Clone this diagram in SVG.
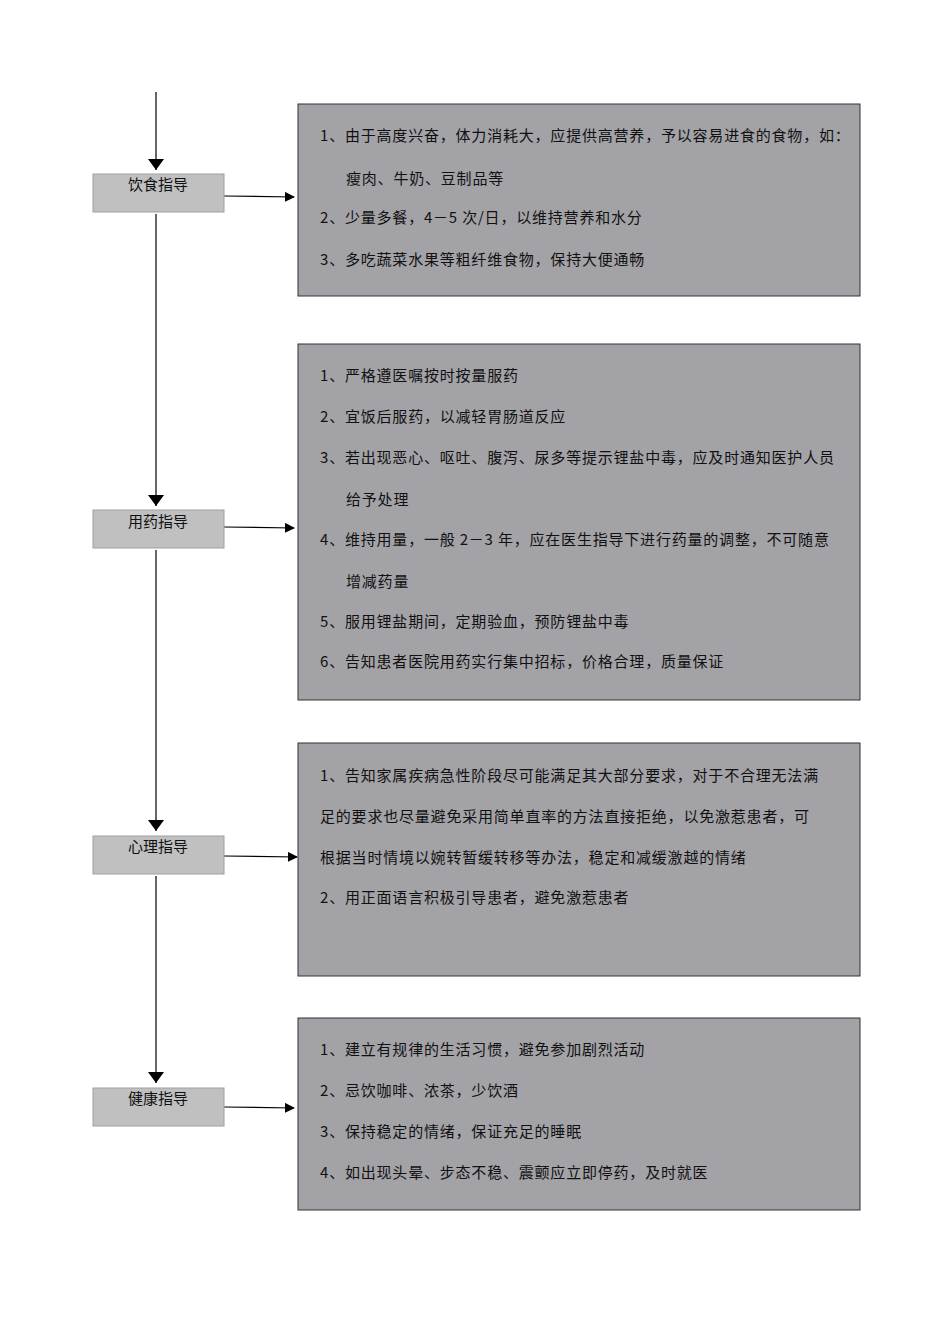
<svg xmlns="http://www.w3.org/2000/svg" width="950" height="1344" viewBox="0 0 950 1344">
<style>
.s{fill:#c0c0c0;stroke:#a0a0a0;stroke-width:1}
.b{fill:#a3a2a7;stroke:#333;stroke-width:1}
text{font-family:"Noto Sans CJK SC","Liberation Serif",serif;font-size:15px;fill:#111}
.b~text{letter-spacing:0.8px}
.c{text-anchor:middle}
line{stroke:#000;stroke-width:1.2}
</style>
<defs><marker id="a" markerWidth="10" markerHeight="10" refX="9" refY="5" orient="auto" markerUnits="userSpaceOnUse"><path d="M0,0L10,5L0,10z" fill="#000"/></marker>
<marker id="d" markerWidth="16" markerHeight="12" refX="8" refY="11" orient="0" markerUnits="userSpaceOnUse"><path d="M0,0L16,0L8,11z" fill="#000"/></marker></defs>
<g id="connectors">
<line x1="156" y1="92" x2="156" y2="170" marker-end="url(#d)"/>
<line x1="156" y1="214" x2="156" y2="506" marker-end="url(#d)"/>
<line x1="156" y1="550" x2="156" y2="831" marker-end="url(#d)"/>
<line x1="156" y1="876" x2="156" y2="1083" marker-end="url(#d)"/>
<line x1="224" y1="196" x2="294" y2="197" marker-end="url(#a)"/>
<line x1="224" y1="527" x2="294" y2="528" marker-end="url(#a)"/>
<line x1="224" y1="856" x2="297" y2="857" marker-end="url(#a)"/>
<line x1="224" y1="1107" x2="294" y2="1108" marker-end="url(#a)"/>
</g>
<g id="n1"><rect class="s" x="93" y="174" width="131" height="38"/><text class="c" x="158" y="190">饮食指导</text></g>
<g id="n2"><rect class="s" x="93" y="510" width="131" height="38"/><text class="c" x="158" y="527">用药指导</text></g>
<g id="n3"><rect class="s" x="93" y="836" width="131" height="38"/><text class="c" x="158" y="852">心理指导</text></g>
<g id="n4"><rect class="s" x="93" y="1088" width="131" height="38"/><text class="c" x="158" y="1104">健康指导</text></g>
<g id="b1"><rect class="b" x="298" y="104" width="562" height="192"/>
<text x="320" y="141">1、由于高度兴奋，体力消耗大，应提供高营养，予以容易进食的食物，如：</text>
<text x="346" y="184">瘦肉、牛奶、豆制品等</text>
<text x="320" y="223">2、少量多餐，4－5 次/日，以维持营养和水分</text>
<text x="320" y="265">3、多吃蔬菜水果等粗纤维食物，保持大便通畅</text></g>
<g id="b2"><rect class="b" x="298" y="344" width="562" height="356"/>
<text x="320" y="381">1、严格遵医嘱按时按量服药</text>
<text x="320" y="422">2、宜饭后服药，以减轻胃肠道反应</text>
<text x="320" y="463">3、若出现恶心、呕吐、腹泻、尿多等提示锂盐中毒，应及时通知医护人员</text>
<text x="346" y="505">给予处理</text>
<text x="320" y="545">4、维持用量，一般 2－3 年，应在医生指导下进行药量的调整，不可随意</text>
<text x="346" y="587">增减药量</text>
<text x="320" y="627">5、服用锂盐期间，定期验血，预防锂盐中毒</text>
<text x="320" y="667">6、告知患者医院用药实行集中招标，价格合理，质量保证</text></g>
<g id="b3"><rect class="b" x="298" y="743" width="562" height="233"/>
<text x="320" y="781">1、告知家属疾病急性阶段尽可能满足其大部分要求，对于不合理无法满</text>
<text x="320" y="822">足的要求也尽量避免采用简单直率的方法直接拒绝，以免激惹患者，可</text>
<text x="320" y="863">根据当时情境以婉转暂缓转移等办法，稳定和减缓激越的情绪</text>
<text x="320" y="903">2、用正面语言积极引导患者，避免激惹患者</text></g>
<g id="b4"><rect class="b" x="298" y="1018" width="562" height="192"/>
<text x="320" y="1055">1、建立有规律的生活习惯，避免参加剧烈活动</text>
<text x="320" y="1096">2、忌饮咖啡、浓茶，少饮酒</text>
<text x="320" y="1137">3、保持稳定的情绪，保证充足的睡眠</text>
<text x="320" y="1178">4、如出现头晕、步态不稳、震颤应立即停药，及时就医</text></g>
</svg>
